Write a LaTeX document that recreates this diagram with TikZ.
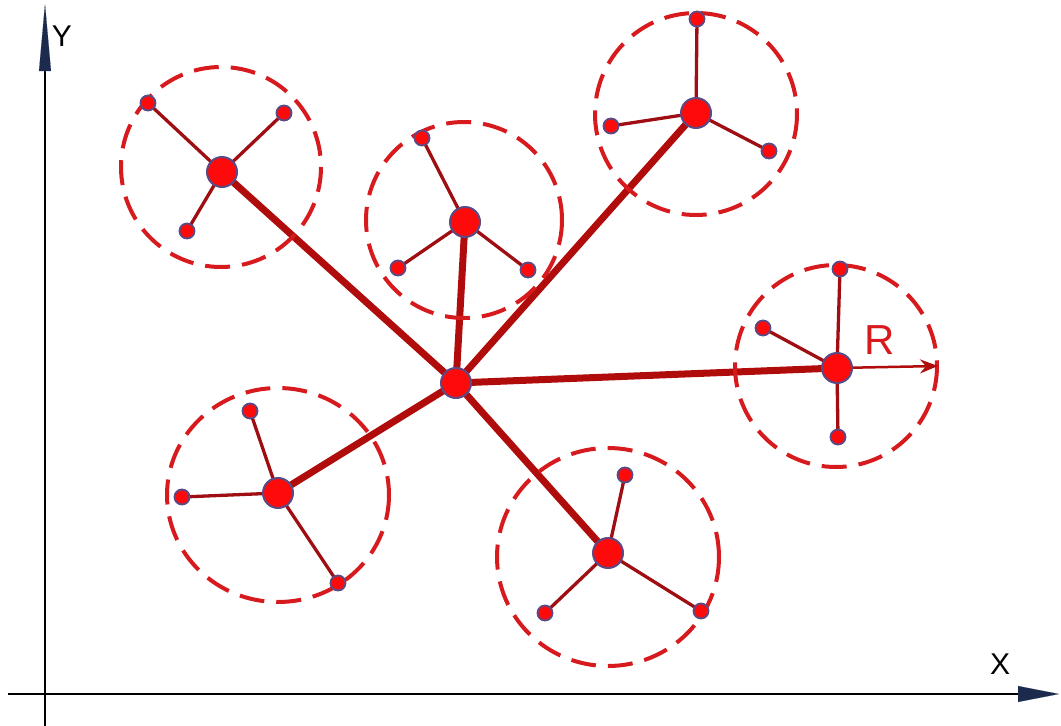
\documentclass[tikz,border=0pt]{standalone}
\usepackage{fontspec}
\setmainfont{Liberation Sans}
\usetikzlibrary{arrows.meta,backgrounds}
\definecolor{hubred}{HTML}{FF0A0A}
\definecolor{rimblue}{HTML}{5A4A86}
\definecolor{spokered}{HTML}{B00C0C}
\definecolor{leafred}{HTML}{9E0E12}
\definecolor{ringred}{HTML}{D61A1E}
\definecolor{axisnavy}{HTML}{1C2A4E}
\tikzset{
  hub/.style={circle,fill=hubred,draw=rimblue,line width=2pt,minimum size=30pt,inner sep=0pt},
  leaf/.style={circle,fill=hubred,draw=rimblue,line width=1.8pt,minimum size=15pt,inner sep=0pt},
  spoke/.style={draw=spokered,line width=7pt},
  twig/.style={draw=leafred,line width=3.3pt},
  ring/.style={draw=ringred,line width=4pt,dash pattern=on 25pt off 12pt},
  axis/.style={draw=black,line width=2.3pt},
  axlabel/.style={font=\fontsize{30}{30}\selectfont,text=black,inner sep=0pt}
}
\begin{document}
\begin{tikzpicture}[x=1pt,y=-1pt]
\useasboundingbox (0,0) rectangle (1061,726);
% axes
\coordinate (yb) at (45,726);
\coordinate (ytip) at (45,4);
\coordinate (xb) at (8,694);
\coordinate (xtip) at (1059,694);
\draw[axis] (yb) -- (45,70);
\draw[axis] (xb) -- (1018,694);
\draw[draw=axisnavy,line width=0.1pt,-{Triangle[length=67pt,width=12pt,fill=axisnavy]}] (45,71) -- (ytip);
\draw[draw=axisnavy,line width=0.1pt,-{Triangle[length=41pt,width=16pt,fill=axisnavy]}] (1018,694) -- (xtip);
\node[axlabel] (ylab) at (62,36) {Y};
\node[axlabel] (xlab) at (1000,664) {X};
% rings
\draw[ring] (221,167) circle (100);
\draw[ring] (464,220) circle (98);
\draw[ring] (696,114) circle (101);
\draw[ring] (836,366) circle (101);
\draw[ring] (278,495) ellipse (111 and 107);
\draw[ring] (608,557) ellipse (111 and 109);
% hubs
\node[hub] (c) at (456,383) {};
\node[hub] (h1) at (222,172) {};
\node[hub] (h2) at (465,222) {};
\node[hub] (h3) at (696,113) {};
\node[hub] (h4) at (837,368) {};
\node[hub] (h5) at (278,493) {};
\node[hub] (h6) at (608,553) {};
% leaves
\node[leaf] (a1) at (148,103) {};
\node[leaf] (a2) at (284,113) {};
\node[leaf] (a3) at (187,231) {};
\node[leaf] (b1) at (422,138) {};
\node[leaf] (b2) at (398,268) {};
\node[leaf] (b3) at (528,270) {};
\node[leaf] (d1) at (697,19) {};
\node[leaf] (d2) at (611,126) {};
\node[leaf] (d3) at (769,151) {};
\node[leaf] (e1) at (840,269) {};
\node[leaf] (e2) at (763,328) {};
\node[leaf] (e3) at (838,437) {};
\node[leaf] (f1) at (250,411) {};
\node[leaf] (f2) at (182,497) {};
\node[leaf] (f3) at (338,583) {};
\node[leaf] (g1) at (625,475) {};
\node[leaf] (g2) at (545,613) {};
\node[leaf] (g3) at (701,611) {};
\coordinate (rend) at (938,366);
\begin{scope}[on background layer]
  \foreach \h in {h1,h2,h3,h4,h5,h6} \draw[spoke] (c.center) -- (\h.center);
  \foreach \h/\l in {h1/a1,h1/a2,h1/a3,h2/b1,h2/b2,h2/b3,h3/d1,h3/d2,h3/d3,h4/e1,h4/e2,h4/e3,h5/f1,h5/f2,h5/f3,h6/g1,h6/g2,h6/g3}
    \draw[twig] (\h.center) -- (\l.center);
\end{scope}
\draw[draw=spokered,line width=2.5pt,-{Stealth[length=18pt,width=14pt,inset=6pt]}] (h4) -- (rend);
\node[font=\fontsize{42}{42}\selectfont,text=ringred,inner sep=0pt] (rlab) at (880,340) {R};
\end{tikzpicture}
\end{document}
